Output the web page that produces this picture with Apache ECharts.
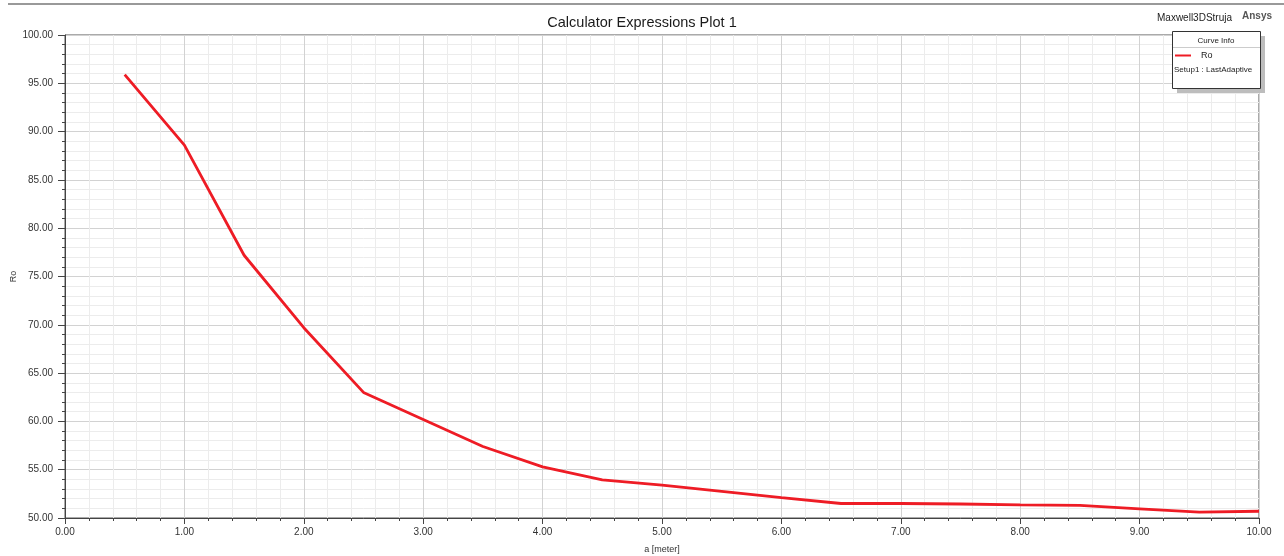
<!DOCTYPE html>
<html>
<head>
<meta charset="utf-8">
<script src="https://cdn.jsdelivr.net/npm/echarts@6/dist/echarts.min.js"></script>
<style>
html,body{margin:0;padding:0;background:#fff;}
#chart{width:1284px;height:556px;}
</style>
</head>
<body>
<div id="chart"></div>
<script>
const xValues = [0.5, 1.0, 1.5, 2.0, 2.5, 3.0, 3.5, 4.0, 4.5, 5.0, 5.5, 6.0, 6.5, 7.0, 7.5, 8.0, 8.5, 9.0, 9.5, 10.0];
const roValues = [95.9, 88.6, 77.2, 69.7, 63.0, 60.2, 57.4, 55.3, 53.95, 53.4, 52.75, 52.1, 51.5, 51.5, 51.45, 51.35, 51.3, 50.95, 50.6, 50.7];
const seriesName = 'Ro';
const titleText = 'Calculator Expressions Plot 1';
const projectText = 'Maxwell3DStruja';
const brandText = 'Ansys';
const legendTitle = 'Curve Info';
const legendSub = 'Setup1 : LastAdaptive';
const xName = 'a [meter]';
const yName = 'Ro';

const data = xValues.map((x, i) => [x, roValues[i]]);
const FONT = '"Liberation Sans", Arial, sans-serif';
const RED = '#ee1c25';

const chart = echarts.init(document.getElementById('chart'), null, {renderer: 'canvas'});
chart.setOption({
  animation: false,
  backgroundColor: '#fff',
  textStyle: {fontFamily: FONT},
  title: {
    text: titleText,
    left: 'center',
    top: 10,
    textStyle: {fontFamily: FONT, fontSize: 14.5, fontWeight: 'normal', color: '#1a1a1a'}
  },
  grid: {
    left: 65, right: 25, top: 35, bottom: 38,
    outerBoundsMode: 'none',
    containLabel: false,
    show: true, borderColor: '#555', borderWidth: 1, backgroundColor: 'transparent'
  },
  legend: {
    data: [{name: seriesName, itemStyle: {color: RED}}],
    left: 1175,
    top: 51,
    z: 30,
    itemWidth: 16,
    itemHeight: 2,
    itemGap: 0,
    icon: 'rect',
    itemStyle: {color: RED},
    textStyle: {fontFamily: FONT, fontSize: 9, color: '#222', padding: [0, 0, 0, 5]},
    selectedMode: false,
    padding: 0
  },
  xAxis: {
    type: 'value',
    min: 0, max: 10, interval: 1,
    name: xName,
    nameLocation: 'middle',
    nameGap: 27,
    nameMoveOverlap: false,
    nameTextStyle: {fontFamily: FONT, fontSize: 9, color: '#333'},
    axisLine: {show: true, lineStyle: {color: '#444', width: 1}},
    axisTick: {show: true, length: 6, lineStyle: {color: '#444'}},
    minorTick: {show: true, splitNumber: 5, length: 3, lineStyle: {color: '#444'}},
    axisLabel: {fontFamily: FONT, fontSize: 10, color: '#333', margin: 9, formatter: v => v.toFixed(2)},
    splitLine: {show: true, lineStyle: {color: '#d2d2d2', width: 1}},
    minorSplitLine: {show: true, lineStyle: {color: '#ececec', width: 1}}
  },
  yAxis: {
    type: 'value',
    min: 50, max: 100, interval: 5,
    name: yName,
    nameLocation: 'middle',
    nameGap: 47,
    nameMoveOverlap: false,
    nameTextStyle: {fontFamily: FONT, fontSize: 9, color: '#333'},
    axisLine: {show: true, lineStyle: {color: '#444', width: 1}},
    axisTick: {show: true, length: 7, lineStyle: {color: '#444'}},
    minorTick: {show: true, splitNumber: 5, length: 3, lineStyle: {color: '#444'}},
    axisLabel: {fontFamily: FONT, fontSize: 10, color: '#333', margin: 12, formatter: v => v.toFixed(2)},
    splitLine: {show: true, lineStyle: {color: '#d2d2d2', width: 1}},
    minorSplitLine: {show: true, lineStyle: {color: '#ececec', width: 1}}
  },
  series: [{
    name: seriesName,
    type: 'line',
    data: data,
    showSymbol: false,
    symbol: 'none',
    color: RED,
    lineStyle: {color: RED, width: 2.8},
    z: 5
  }],
  graphic: [
    {type: 'line', shape: {x1: 8, y1: 4, x2: 1284, y2: 4}, style: {stroke: '#999', lineWidth: 2}, z: 10},
    {type: 'text', left: 1157, top: 13, style: {text: projectText, font: '10px "Liberation Sans", Arial, sans-serif', fill: '#222'}, z: 10},
    {type: 'text', left: 1242, top: 11, style: {text: brandText, font: 'bold 10px "Liberation Sans", Arial, sans-serif', fill: '#555'}, z: 10},
    {type: 'rect', shape: {x: 1177, y: 36, width: 88, height: 57}, style: {fill: '#bdbdbd'}, z: 10},
    {type: 'rect', shape: {x: 1172.5, y: 31.5, width: 88, height: 57}, style: {fill: '#fff', stroke: '#333', lineWidth: 1}, z: 11},
    {type: 'line', shape: {x1: 1173, y1: 47.5, x2: 1260, y2: 47.5}, style: {stroke: '#ccc', lineWidth: 1}, z: 12},
    {type: 'text', x: 1216, y: 37, style: {text: legendTitle, font: '8px "Liberation Sans", Arial, sans-serif', fill: '#222', align: 'center'}, z: 12},
    {type: 'text', x: 1174, y: 66, style: {text: legendSub, font: '8px "Liberation Sans", Arial, sans-serif', fill: '#222'}, z: 12}
  ]
});
</script>
</body>
</html>
